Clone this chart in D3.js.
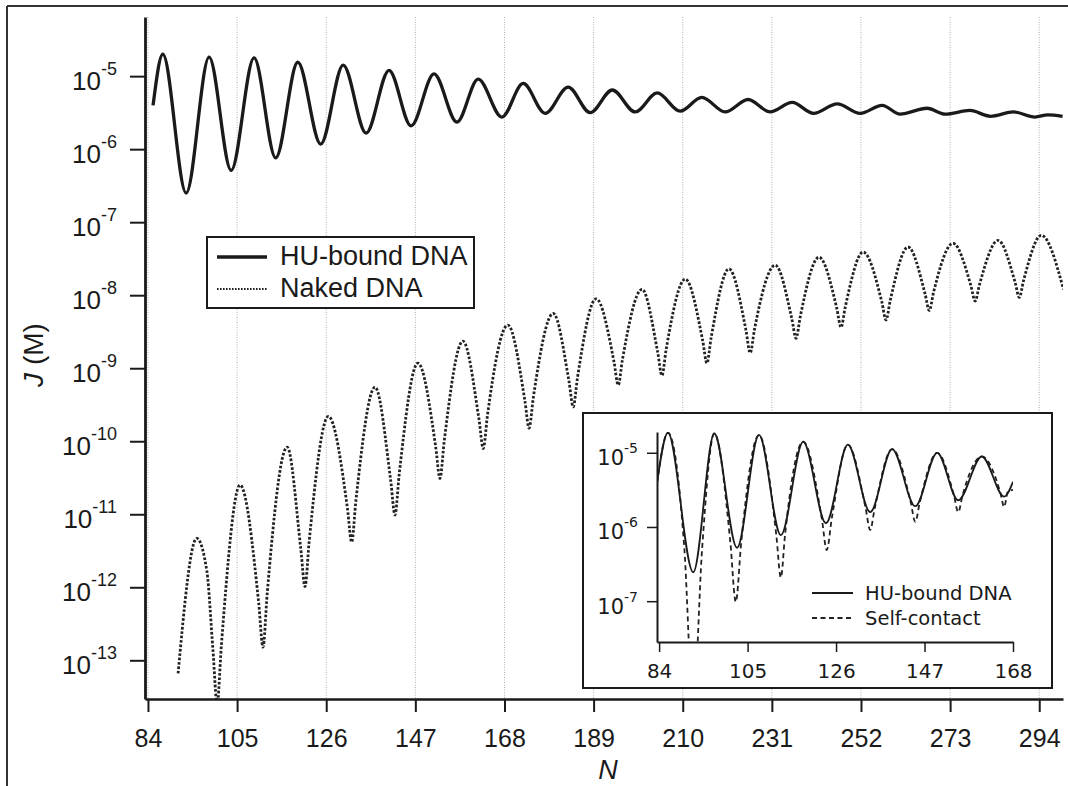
<!DOCTYPE html>
<html>
<head>
<meta charset="utf-8">
<script src="https://cdn.jsdelivr.net/npm/d3@7"></script>
<style>
  body { margin: 0; background: #fff; }
  svg { display: block; }
</style>
</head>
<body>
<div id="chart"></div>
<script>
// Values are log10 of J (in M).

// HU-bound DNA, main panel
const huN = [85.2, 87.5, 93.0, 98.4, 103.6, 109.0, 114.1, 119.3, 124.7, 130.0, 135.4, 140.8, 146.0, 151.4, 156.8, 161.8, 167.4, 172.4, 177.6, 183.0, 188.2, 193.4, 198.8, 204.0, 209.4, 214.5, 220.0, 225.4, 230.6, 235.8, 240.8, 246.4, 251.8, 257.0, 261.2, 267.6, 271.8, 277.7, 282.5, 287.9, 293.0, 296.0, 299.5];
const huLogJ = [-5.40, -4.70, -6.60, -4.74, -6.29, -4.75, -6.12, -4.81, -5.93, -4.85, -5.78, -4.92, -5.68, -4.97, -5.63, -5.04, -5.56, -5.10, -5.51, -5.15, -5.50, -5.19, -5.49, -5.23, -5.48, -5.29, -5.49, -5.32, -5.49, -5.36, -5.51, -5.38, -5.51, -5.40, -5.52, -5.44, -5.52, -5.47, -5.55, -5.49, -5.56, -5.53, -5.55];

// Naked DNA, main panel
const nakedN = [91.1, 95.5, 97.9, 99.3, 100.3, 101.3, 105.7, 110.1, 111.1, 112.1, 116.8, 120.0, 121.0, 122.0, 126.5, 131.0, 132.0, 133.0, 137.5, 141.2, 142.2, 143.2, 147.6, 151.8, 152.8, 153.8, 158.2, 162.0, 163.0, 164.0, 168.8, 172.8, 173.8, 174.8, 179.5, 183.2, 184.2, 185.2, 189.6, 193.8, 194.8, 195.8, 200.4, 204.1, 205.1, 206.1, 210.6, 214.7, 215.7, 216.7, 220.9, 224.9, 225.9, 226.9, 231.8, 235.7, 236.7, 237.7, 242.1, 246.3, 247.3, 248.3, 252.5, 256.9, 257.9, 258.9, 263.1, 267.1, 268.1, 269.1, 273.7, 277.9, 278.9, 279.9, 284.3, 288.3, 289.3, 290.3, 294.5, 299.7];
const nakedLogJ = [-13.18, -11.33, -11.79, -12.85, -13.60, -12.79, -10.60, -12.22, -12.82, -12.08, -10.08, -11.47, -11.99, -11.36, -9.66, -10.92, -11.38, -10.81, -9.26, -10.54, -11.01, -10.45, -8.93, -10.08, -10.51, -10.00, -8.63, -9.70, -10.10, -9.64, -8.41, -9.44, -9.82, -9.40, -8.25, -9.18, -9.53, -9.13, -8.05, -8.91, -9.23, -8.88, -7.92, -8.78, -9.10, -8.74, -7.78, -8.62, -8.93, -8.58, -7.64, -8.48, -8.79, -8.47, -7.59, -8.32, -8.59, -8.29, -7.48, -8.18, -8.44, -8.16, -7.41, -8.09, -8.34, -8.07, -7.34, -7.98, -8.21, -7.96, -7.29, -7.87, -8.08, -7.86, -7.25, -7.82, -8.03, -7.80, -7.18, -7.92];

// Inset: HU-bound DNA and self-contact
const insetHuN = [83.5, 86.1, 92.1, 97.1, 102.5, 107.7, 112.9, 118.2, 123.6, 128.8, 134.1, 139.3, 144.8, 150.0, 155.0, 160.6, 165.9, 168.0];
const insetHuLogJ = [-5.41, -4.73, -6.61, -4.74, -6.28, -4.76, -6.11, -4.85, -5.95, -4.89, -5.80, -4.95, -5.72, -5.00, -5.64, -5.05, -5.59, -5.39];
const selfN = [83.5, 86.1, 90.0, 92.1, 94.2, 97.1, 100.9, 102.2, 103.5, 107.7, 111.8, 112.9, 113.9, 118.2, 122.6, 123.8, 125.0, 128.8, 133.0, 134.1, 135.2, 139.3, 143.7, 144.8, 145.9, 150.0, 154.0, 155.0, 156.0, 160.6, 165.0, 165.9, 166.8, 168.0];
const selfLogJ = [-5.41, -4.73, -6.30, -8.40, -6.30, -4.74, -6.20, -7.01, -6.20, -4.76, -6.10, -6.68, -6.10, -4.85, -5.88, -6.31, -5.88, -4.89, -5.74, -6.04, -5.74, -4.95, -5.66, -5.93, -5.66, -5.00, -5.58, -5.80, -5.58, -5.05, -5.54, -5.73, -5.52, -5.50];

// Ticks
const xTicks = [84, 105, 126, 147, 168, 189, 210, 231, 252, 273, 294];
const yTickExps = [-5, -6, -7, -8, -9, -10, -11, -12, -13];
const insetXTicks = [84, 105, 126, 147, 168];
const insetYTickExps = [-5, -6, -7];

const legendLabels = ['HU-bound DNA', 'Naked DNA'];
const insetLegendLabels = ['HU-bound DNA', 'Self-contact'];

const MAIN_FONT = '"Liberation Sans", Arial, Helvetica, sans-serif';
const INSET_FONT = '"DejaVu Sans", sans-serif';
const INK = '#1a1a1a';

const width = 1068, height = 786;

const svg = d3.select('#chart')
  .append('svg')
    .attr('width', width)
    .attr('height', height)
    .style('background', '#fff');

// Frame around the figure (top and left edges are visible)
svg.append('line').attr('x1', 7).attr('x2', width).attr('y1', 6).attr('y2', 6)
  .attr('stroke', '#333').attr('stroke-width', 2);
svg.append('line').attr('x1', 7).attr('x2', 7).attr('y1', 6).attr('y2', height)
  .attr('stroke', '#333').attr('stroke-width', 2);

const toPoints = (ns, logs) => ns.map((n, i) => ({n: n, j: Math.pow(10, logs[i])}));

// ---------- Main panel ----------
const main = {left: 145, right: 1063, top: 17, bottom: 699};

const x = d3.scaleLinear().domain([83.3, 299.6]).range([main.left, main.right]);
const y = d3.scaleLog().domain([Math.pow(10, -13.53), Math.pow(10, -4.19)]).range([main.bottom, main.top]);

svg.append('clipPath').attr('id', 'mainClip')
  .append('rect')
    .attr('x', main.left).attr('y', main.top)
    .attr('width', main.right - main.left).attr('height', main.bottom - main.top);

// Dotted vertical grid lines
svg.append('g')
  .selectAll('line')
  .data(xTicks)
  .join('line')
    .attr('x1', d => x(d)).attr('x2', d => x(d))
    .attr('y1', main.top).attr('y2', main.bottom)
    .attr('stroke', '#b0b0b0')
    .attr('stroke-width', 1)
    .attr('stroke-dasharray', '1,1.5');

const mainLine = d3.line()
  .x(d => x(d.n))
  .y(d => y(d.j))
  .curve(d3.curveMonotoneX);

const plot = svg.append('g').attr('clip-path', 'url(#mainClip)');

plot.append('path')
  .datum(toPoints(nakedN, nakedLogJ))
  .attr('d', mainLine)
  .attr('fill', 'none')
  .attr('stroke', '#222')
  .attr('stroke-width', 2.8)
  .attr('stroke-dasharray', '2.6,1.8');

plot.append('path')
  .datum(toPoints(huN, huLogJ))
  .attr('d', mainLine)
  .attr('fill', 'none')
  .attr('stroke', INK)
  .attr('stroke-width', 3.3)
  .attr('stroke-linejoin', 'round');

// Axes
const xAxis = svg.append('g')
  .attr('transform', `translate(0,${main.bottom})`)
  .call(d3.axisBottom(x).tickValues(xTicks).tickSize(13).tickSizeOuter(0));
xAxis.select('.domain').attr('stroke', INK).attr('stroke-width', 2.5);
xAxis.selectAll('.tick line').attr('stroke', INK).attr('stroke-width', 2);
xAxis.selectAll('.tick text')
  .attr('y', 48).attr('dy', 0)
  .attr('fill', INK)
  .style('font-family', MAIN_FONT)
  .style('font-size', '25px');

const yAxis = svg.append('g')
  .attr('transform', `translate(${main.left},0)`)
  .call(d3.axisLeft(y).tickValues(yTickExps.map(e => Math.pow(10, e))).tickSize(15).tickSizeOuter(0).tickPadding(13));
yAxis.select('.domain').attr('stroke', INK).attr('stroke-width', 2.8);
yAxis.selectAll('.tick line').attr('stroke', INK).attr('stroke-width', 2);
yAxis.selectAll('.tick text').each(function(d) {
  const t = d3.select(this)
    .text('10')
    .attr('dy', 13)
    .attr('fill', INK)
    .style('font-family', MAIN_FONT)
    .style('font-size', '26px');
  t.append('tspan')
    .attr('dy', -15)
    .style('font-size', '18px')
    .text(Math.round(Math.log10(d)));
});

// Axis titles
const yTitle = svg.append('text')
  .attr('transform', 'translate(43,355) rotate(-90)')
  .attr('text-anchor', 'middle')
  .attr('fill', INK)
  .style('font-family', MAIN_FONT)
  .style('font-size', '28px');
yTitle.append('tspan').style('font-style', 'italic').text('J');
yTitle.append('tspan').text(' (M)');

svg.append('text')
  .attr('x', 608).attr('y', 779)
  .attr('text-anchor', 'middle')
  .attr('fill', INK)
  .style('font-family', MAIN_FONT)
  .style('font-size', '27px')
  .style('font-style', 'italic')
  .text('N');

// Legend, main panel
const legend = svg.append('g');
legend.append('rect')
  .attr('x', 207).attr('y', 237).attr('width', 267).attr('height', 71)
  .attr('fill', '#fff').attr('stroke', INK).attr('stroke-width', 2);
legend.append('line')
  .attr('x1', 217).attr('x2', 267).attr('y1', 257).attr('y2', 257)
  .attr('stroke', INK).attr('stroke-width', 3.3);
legend.append('line')
  .attr('x1', 217).attr('x2', 267).attr('y1', 289).attr('y2', 289)
  .attr('stroke', '#222').attr('stroke-width', 2).attr('stroke-dasharray', '1.6,1.4');
legend.selectAll('text')
  .data(legendLabels)
  .join('text')
    .attr('x', 280)
    .attr('y', (d, i) => 265 + i * 32)
    .attr('fill', INK)
    .style('font-family', MAIN_FONT)
    .style('font-size', '27px')
    .text(d => d);

// ---------- Inset ----------
const inset = {left: 657, right: 1013, top: 432, bottom: 642};

svg.append('rect')
  .attr('x', 583).attr('y', 413).attr('width', 469).attr('height', 275)
  .attr('fill', '#fff').attr('stroke', INK).attr('stroke-width', 2);

const xi = d3.scaleLinear().domain([83.5, 168]).range([inset.left, inset.right]);
const yi = d3.scaleLog().domain([Math.pow(10, -7.55), Math.pow(10, -4.72)]).range([inset.bottom, inset.top]);

svg.append('clipPath').attr('id', 'insetClip')
  .append('rect')
    .attr('x', inset.left).attr('y', inset.top)
    .attr('width', inset.right - inset.left).attr('height', inset.bottom - inset.top);

const insetLine = d3.line()
  .x(d => xi(d.n))
  .y(d => yi(d.j))
  .curve(d3.curveMonotoneX);

const insetPlot = svg.append('g').attr('clip-path', 'url(#insetClip)');

insetPlot.append('path')
  .datum(toPoints(selfN, selfLogJ))
  .attr('d', insetLine)
  .attr('fill', 'none')
  .attr('stroke', '#222')
  .attr('stroke-width', 1.8)
  .attr('stroke-dasharray', '5,3.5');

insetPlot.append('path')
  .datum(toPoints(insetHuN, insetHuLogJ))
  .attr('d', insetLine)
  .attr('fill', 'none')
  .attr('stroke', INK)
  .attr('stroke-width', 1.8);

const xiAxis = svg.append('g')
  .attr('transform', `translate(0,${inset.bottom})`)
  .call(d3.axisBottom(xi).tickValues(insetXTicks).tickSize(10).tickSizeOuter(0));
xiAxis.select('.domain').attr('stroke', INK).attr('stroke-width', 2);
xiAxis.selectAll('.tick line').attr('stroke', INK).attr('stroke-width', 1.5);
xiAxis.selectAll('.tick text')
  .attr('y', 36).attr('dy', 0)
  .attr('fill', INK)
  .style('font-family', INSET_FONT)
  .style('font-size', '20px');

const yiAxis = svg.append('g')
  .attr('transform', `translate(${inset.left},0)`)
  .call(d3.axisLeft(yi).tickValues(insetYTickExps.map(e => Math.pow(10, e))).tickSize(10).tickSizeOuter(0).tickPadding(9));
yiAxis.select('.domain').attr('stroke', INK).attr('stroke-width', 2);
yiAxis.selectAll('.tick line').attr('stroke', INK).attr('stroke-width', 1.5);
yiAxis.selectAll('.tick text').each(function(d) {
  const t = d3.select(this)
    .text('10')
    .attr('dy', 12)
    .attr('fill', INK)
    .style('font-family', INSET_FONT)
    .style('font-size', '21px');
  t.append('tspan')
    .attr('dy', -12)
    .style('font-size', '14px')
    .text(Math.round(Math.log10(d)));
});

// Legend, inset
const insetLegend = svg.append('g');
insetLegend.append('line')
  .attr('x1', 812).attr('x2', 853).attr('y1', 593).attr('y2', 593)
  .attr('stroke', INK).attr('stroke-width', 1.8);
insetLegend.append('line')
  .attr('x1', 812).attr('x2', 853).attr('y1', 618).attr('y2', 618)
  .attr('stroke', '#222').attr('stroke-width', 1.8).attr('stroke-dasharray', '5,3.5');
insetLegend.selectAll('text')
  .data(insetLegendLabels)
  .join('text')
    .attr('x', 865)
    .attr('y', (d, i) => 600 + i * 25)
    .attr('fill', INK)
    .style('font-family', INSET_FONT)
    .style('font-size', '19.5px')
    .text(d => d);
</script>
</body>
</html>
